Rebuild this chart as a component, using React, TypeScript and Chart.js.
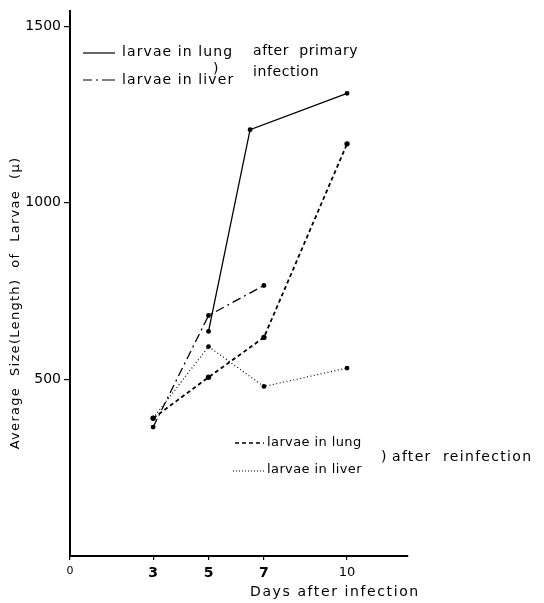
import React, { useEffect, useRef } from "react";
import { Chart, registerables } from "chart.js";

Chart.register(...registerables);

// Data
const lungPrimaryDays = [5, 6.5, 10];
const lungPrimary = [636, 1207, 1310];
const liverPrimaryDays = [3, 5, 7];
const liverPrimary = [365, 681, 766];
const lungReinfDays = [3, 5, 7, 10];
const lungReinf = [390, 506, 619, 1167];
const liverReinfDays = [3, 5, 7, 10];
const liverReinf = [390, 593, 480, 532];

const xTicks = [0, 3, 5, 7, 10];
const yTicks = [500, 1000, 1500];

const FONT = "'DejaVu Sans', sans-serif";

const toPoints = (xs: number[], ys: number[]) => xs.map((x, i) => ({ x, y: ys[i] }));

const annotPlugin = {
  id: "annot",
  afterDraw(chart: any) {
    const ctx = chart.ctx as CanvasRenderingContext2D;
    ctx.save();
    ctx.fillStyle = "#000";
    ctx.strokeStyle = "#000";
    ctx.textBaseline = "middle";
    ctx.textAlign = "left";
    const setSpacing = (s: string) => {
      (ctx as any).letterSpacing = s;
    };

    // Axis titles
    ctx.font = `14px ${FONT}`;
    setSpacing("1.6px");
    ctx.fillText("Days after infection", 250, 592);

    ctx.save();
    ctx.translate(16, 303);
    ctx.rotate(-Math.PI / 2);
    ctx.textAlign = "center";
    ctx.font = `13px ${FONT}`;
    setSpacing("1.3px");
    ctx.fillText("Average  Size(Length)  of  Larvae  (\u03bc)", 0, 0);
    ctx.restore();

    // Top legend
    const sample = (x1: number, x2: number, y: number, dash: number[], w: number) => {
      ctx.beginPath();
      ctx.setLineDash(dash);
      ctx.lineWidth = w;
      ctx.moveTo(x1, y);
      ctx.lineTo(x2, y);
      ctx.stroke();
      ctx.setLineDash([]);
    };
    sample(83, 115, 53, [], 1.2);
    sample(83, 115, 80, [9, 4, 2, 4, 14], 1.2);
    ctx.font = `14px ${FONT}`;
    setSpacing("1.1px");
    ctx.fillText("larvae in lung", 122, 52);
    ctx.fillText("larvae in liver", 122, 80);
    ctx.fillText(")", 213, 69);
    setSpacing("0.6px");
    ctx.fillText("after  primary", 253, 51);
    ctx.fillText("infection", 253, 72);

    // Bottom legend
    sample(235, 264, 443, [4, 3], 1.4);
    sample(233, 265, 471, [1, 2], 1.2);
    ctx.font = `13px ${FONT}`;
    setSpacing("0.4px");
    ctx.fillText("larvae in lung", 267, 443);
    ctx.fillText("larvae in liver", 267, 470);
    ctx.font = `14px ${FONT}`;
    setSpacing("1.3px");
    ctx.fillText(")", 381, 457);
    ctx.fillText("after  reinfection", 392, 457);
    ctx.restore();
  },
};

export default function App() {
  const ref = useRef<HTMLCanvasElement | null>(null);
  useEffect(() => {
    if (!ref.current) return;
    const chart = new Chart(ref.current, {
      type: "line",
      data: {
        datasets: [
          {
            label: "larvae in lung (primary)",
            data: toPoints(lungPrimaryDays, lungPrimary),
            borderColor: "#000",
            backgroundColor: "#000",
            borderWidth: 1.3,
            pointRadius: 1.8,
          },
          {
            label: "larvae in liver (primary)",
            data: toPoints(liverPrimaryDays, liverPrimary),
            borderColor: "#000",
            backgroundColor: "#000",
            borderWidth: 1.3,
            borderDash: [9, 4, 2, 4],
            pointRadius: 1.8,
          },
          {
            label: "larvae in lung (reinfection)",
            data: toPoints(lungReinfDays, lungReinf),
            borderColor: "#000",
            backgroundColor: "#000",
            borderWidth: 1.8,
            borderDash: [4, 3],
            pointRadius: 1.8,
          },
          {
            label: "larvae in liver (reinfection)",
            data: toPoints(liverReinfDays, liverReinf),
            borderColor: "#000",
            backgroundColor: "#000",
            borderWidth: 1.2,
            borderDash: [1, 2.5],
            pointRadius: 1.8,
          },
        ],
      },
      options: {
        animation: false,
        responsive: false,
        devicePixelRatio: 1,
        layout: { padding: { left: 8, right: 136, top: 10, bottom: 0 } },
        plugins: { legend: { display: false }, tooltip: { enabled: false } },
        scales: {
          x: {
            type: "linear",
            min: 0,
            max: 12.2,
            afterBuildTicks: (s: any) => {
              s.ticks = xTicks.map((v) => ({ value: v }));
            },
            afterFit: (s: any) => {
              s.height = 47;
            },
            grid: { drawOnChartArea: false, drawTicks: true, tickLength: 4, color: "#000", lineWidth: 1.2 },
            border: { display: true, color: "#000", width: 2 },
            ticks: {
              color: "#000",
              padding: 5,
              maxRotation: 0,
              autoSkip: false,
              font: (c: any) =>
                c.tick && c.tick.value === 0
                  ? { family: FONT, size: 11 }
                  : c.tick && c.tick.value === 10
                  ? { family: FONT, size: 13 }
                  : { family: FONT, size: 14, weight: "bold" },
              callback: (v: any) => String(v),
            },
          },
          y: {
            type: "linear",
            min: 0,
            max: 1542,
            afterBuildTicks: (s: any) => {
              s.ticks = yTicks.map((v) => ({ value: v }));
            },
            afterFit: (s: any) => {
              s.width = 62;
            },
            grid: { drawOnChartArea: false, drawTicks: true, tickLength: 6, color: "#000", lineWidth: 1.2 },
            border: { display: true, color: "#000", width: 2 },
            ticks: {
              color: "#000",
              padding: 3,
              font: { family: FONT, size: 14 },
              callback: (v: any) => String(v),
            },
          },
        },
      },
      plugins: [annotPlugin],
    } as any);
    return () => chart.destroy();
  }, []);
  return (
    <div style={{ position: "absolute", left: 0, top: 0, width: 544, height: 603, background: "#fff" }}>
      <canvas ref={ref} width={544} height={603} style={{ display: "block" }} />
    </div>
  );
}
